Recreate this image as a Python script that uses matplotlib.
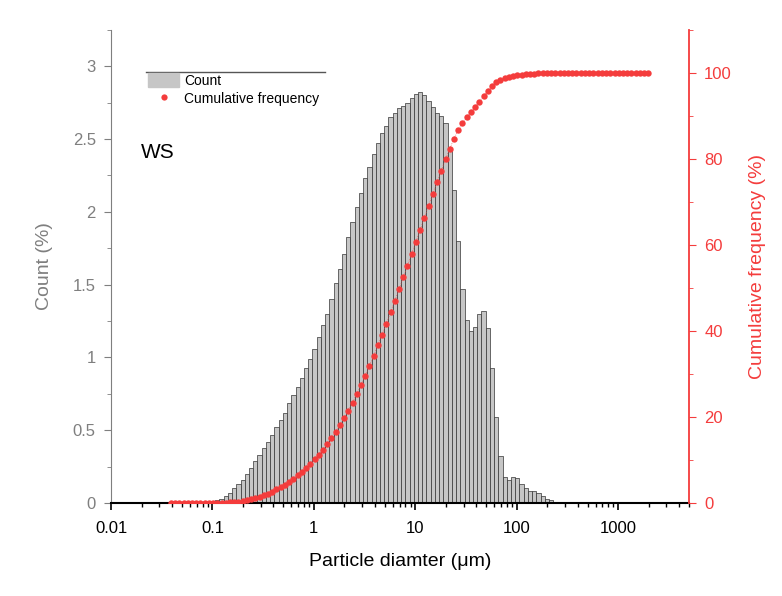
import numpy as np
import matplotlib
matplotlib.use("Agg")
import matplotlib.pyplot as plt
from matplotlib.ticker import MultipleLocator, LogLocator
from matplotlib.patches import Patch
from matplotlib.lines import Line2D

plt.rcParams['font.family'] = ['Liberation Sans', 'DejaVu Sans']

# instrument size classes: geometric grid, 24 classes per decade
first_class_um = 0.0389
classes_per_decade = 24
n_classes = 114
first_count_class = 11   # count bars start at class 11 (~0.11 um)

# count (%) per class, from ~0.11 um to ~220 um
count_pct = [
    0.02, 0.03, 0.05, 0.07, 0.10, 0.13, 0.16, 0.20, 0.24, 0.29,
    0.33, 0.38, 0.42, 0.47, 0.52, 0.57, 0.62, 0.69, 0.74, 0.80,
    0.86, 0.93, 0.99, 1.06, 1.14, 1.22, 1.30, 1.40, 1.51, 1.61,
    1.71, 1.83, 1.93, 2.03, 2.13, 2.23, 2.31, 2.40, 2.47, 2.54,
    2.59, 2.65, 2.68, 2.71, 2.73, 2.75, 2.78, 2.81, 2.82, 2.80,
    2.76, 2.72, 2.68, 2.66, 2.61, 2.42, 2.15, 1.80, 1.47, 1.26,
    1.18, 1.21, 1.30, 1.32, 1.20, 0.93, 0.59, 0.32, 0.18, 0.16,
    0.18, 0.17, 0.13, 0.10, 0.08, 0.08, 0.07, 0.05, 0.03, 0.02,
]

# cumulative frequency (%) per class, from ~0.04 um to ~2000 um
cum_pct = [0.0] * 11 + [
    0.01, 0.04, 0.08, 0.14, 0.22, 0.34, 0.48, 0.66, 0.88, 1.15,
    1.46, 1.81, 2.21, 2.66, 3.15, 3.70, 4.29, 4.95, 5.66, 6.43,
    7.26, 8.16, 9.12, 10.14, 11.24, 12.42, 13.68, 15.03, 16.49, 18.05,
    19.71, 21.48, 23.36, 25.34, 27.42, 29.60, 31.87, 34.22, 36.66, 39.16,
    41.73, 44.35, 47.01, 49.71, 52.43, 55.17, 57.93, 60.73, 63.54, 66.35,
    69.13, 71.87, 74.57, 77.24, 79.88, 82.39, 84.68, 86.65, 88.29, 89.65,
    90.87, 92.07, 93.32, 94.63, 95.89, 96.96, 97.80, 98.30, 98.70, 99.00,
    99.20, 99.40, 99.55, 99.65, 99.75, 99.82, 99.88, 99.92, 99.95, 99.97,
    99.98, 99.99,
] + [100.0] * 21

diam = first_class_um * 10 ** (np.arange(n_classes) / classes_per_decade)
bar_d = diam[first_count_class:first_count_class + len(count_pct)]
half = 10 ** (0.5 / classes_per_decade)
left_edges = bar_d / half
widths = bar_d * half - left_edges

RED = '#f43c3c'
GRAY = '#7f7f7f'

fig = plt.figure(figsize=(7.82, 5.96), dpi=100)
ax = fig.add_axes([0.142, 0.156, 0.739, 0.794])

ax.bar(left_edges, count_pct, width=widths, align='edge',
       facecolor='#c6c6c6', edgecolor='#333333', linewidth=0.5)
ax.set_xscale('log')
ax.set_xlim(0.01, 5000)
ax.set_ylim(0, 3.25)

ax2 = ax.twinx()
ax2.plot(diam, cum_pct, color=RED, lw=0.5, ls=':')
ax2.plot(diam, cum_pct, 'o', color=RED, ms=4.6, mec='none')
ax2.set_ylim(0, 110)

# x axis
ax.xaxis.set_minor_locator(LogLocator(base=10, subs=np.arange(2, 10), numticks=20))
ax.set_xticks([0.01, 0.1, 1, 10, 100, 1000])
ax.set_xticklabels(['0.01', '0.1', '1', '10', '100', '1000'])
ax.set_xlabel('Particle diamter (\u03bcm)', fontsize=14, labelpad=12)

# left axis
ax.yaxis.set_minor_locator(MultipleLocator(0.25))
ax.set_yticks([0, 0.5, 1, 1.5, 2, 2.5, 3])
ax.set_yticklabels(['0', '0.5', '1', '1.5', '2', '2.5', '3'])
ax.set_ylabel('Count (%)', fontsize=14, color=GRAY, labelpad=14)

# right axis
ax2.yaxis.set_minor_locator(MultipleLocator(10))
ax2.set_yticks([0, 20, 40, 60, 80, 100])
ax2.set_ylabel('Cumulative frequency (%)', fontsize=14, color=RED, labelpad=12)

for a in (ax, ax2):
    a.spines['top'].set_visible(False)
ax.spines['right'].set_visible(False)
ax.spines['left'].set_color(GRAY)
ax.spines['bottom'].set_color('black')
ax.spines['bottom'].set_linewidth(1.5)
ax2.spines['left'].set_visible(False)
ax2.spines['bottom'].set_visible(False)
ax2.spines['right'].set_color(RED)
ax2.spines['right'].set_linewidth(1.3)

ax.tick_params(axis='x', which='major', direction='out', length=5, width=1.2,
               labelsize=12, colors='black', pad=8)
ax.tick_params(axis='x', which='minor', direction='out', length=3, width=1)
ax.tick_params(axis='y', which='major', direction='out', length=5,
               labelsize=12, colors=GRAY, pad=6)
ax.tick_params(axis='y', which='minor', direction='out', length=3, colors=GRAY)
ax2.tick_params(axis='y', which='major', direction='out', length=5,
                labelsize=12, colors=RED, pad=6)
ax2.tick_params(axis='y', which='minor', direction='out', length=3, colors=RED)

# legend
handles = [Patch(facecolor='#c6c6c6', edgecolor='#c6c6c6'),
           Line2D([], [], marker='o', color=RED, ls='none', ms=4.5, mec='none')]
ax.legend(handles, ['Count', 'Cumulative frequency'], loc='upper left',
          bbox_to_anchor=(0.055, 0.92), frameon=False, fontsize=10,
          handlelength=2.2, handleheight=1.1, handletextpad=0.4,
          labelspacing=0.3, borderaxespad=0)
ax.axhline(2.96, xmin=0.06, xmax=0.37, color='#555555', lw=1)

ax.text(0.052, 0.74, 'WS', transform=ax.transAxes, fontsize=15,
        va='center', ha='left')

fig.savefig('out.png', dpi=100)
